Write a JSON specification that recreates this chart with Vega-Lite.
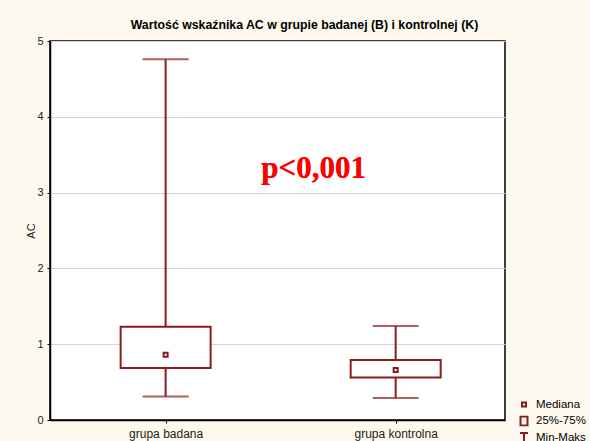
{
  "$schema": "https://vega.github.io/schema/vega-lite/v6.json",
  "autosize": "none",
  "width": 455,
  "height": 379,
  "padding": {"left": 50, "top": 41, "right": 85, "bottom": 21},
  "background": "#FDF9EE",
  "title": {
    "text": "Wartość wskaźnika AC w grupie badanej (B) i kontrolnej (K)",
    "font": "Liberation Sans",
    "fontSize": 12.3,
    "fontWeight": "bold",
    "color": "#000000",
    "anchor": "middle",
    "frame": "group",
    "dx": 27,
    "dy": 18,
    "baseline": "alphabetic",
    "offset": 12
  },
  "config": {
    "view": {"fill": "#FFFFFF", "stroke": "#000000", "strokeWidth": 1.5},
    "axis": {
      "labelFont": "Liberation Sans",
      "labelFontSize": 11,
      "labelColor": "#222222",
      "titleFont": "Liberation Sans",
      "titleFontSize": 11,
      "titleFontWeight": "normal",
      "titleColor": "#222222",
      "domainColor": "#000000",
      "domainWidth": 1.5,
      "tickColor": "#000000"
    }
  },
  "data": {
    "values": [
      {"grupa": "grupa badana", "element": "Mediana", "min": 0.31, "q1": 0.685, "mediana": 0.86, "q3": 1.23, "max": 4.76},
      {"grupa": "grupa kontrolna", "element": "Mediana", "min": 0.29, "q1": 0.56, "mediana": 0.66, "q3": 0.79, "max": 1.24}
    ]
  },
  "encoding": {
    "x": {
      "field": "grupa",
      "type": "nominal",
      "sort": null,
      "scale": {"type": "point", "padding": 0.489, "align": 0.514},
      "axis": {"title": null, "labelAngle": 0, "labelPadding": 5, "labelFontSize": 12, "tickSize": 3, "grid": false}
    }
  },
  "layer": [
    {
      "mark": {"type": "rule", "color": "#8B1C1C", "strokeWidth": 2},
      "encoding": {
        "y": {
          "field": "min",
          "type": "quantitative",
          "scale": {"domain": [0, 5], "nice": false},
          "axis": {
            "title": "AC",
            "values": [0, 1, 2, 3, 4, 5],
            "format": "d",
            "tickSize": 3,
            "labelPadding": 4,
            "titlePadding": 0,
            "grid": true,
            "gridColor": "#D4D4D4",
            "gridWidth": 1
          }
        },
        "y2": {"field": "max"}
      }
    },
    {
      "mark": {"type": "bar", "size": 90, "fill": "#FFFFFF", "stroke": "#8B1C1C", "strokeWidth": 2},
      "encoding": {
        "y": {"field": "q1", "type": "quantitative"},
        "y2": {"field": "q3"}
      }
    },
    {
      "mark": {"type": "tick", "color": "#8B1C1C", "size": 46, "thickness": 2},
      "encoding": {"y": {"field": "min", "type": "quantitative"}}
    },
    {
      "mark": {"type": "tick", "color": "#8B1C1C", "size": 46, "thickness": 2},
      "encoding": {"y": {"field": "max", "type": "quantitative"}}
    },
    {
      "mark": {"type": "point", "filled": false, "color": "#8B1C1C", "strokeWidth": 2, "size": 100, "opacity": 1},
      "encoding": {
        "y": {"field": "mediana", "type": "quantitative"},
        "shape": {
          "field": "element",
          "type": "nominal",
          "scale": {
            "domain": ["Mediana", "25%-75%", "Min-Maks"],
            "range": [
              "M-0.4,-0.4H0.4V0.4H-0.4Z",
              "M-0.7,-0.9H0.7V0.9H-0.7Z",
              "M-0.8,-0.9H0.8M0,-0.9V1.1"
            ]
          },
          "legend": {
            "title": null,
            "orient": "none",
            "legendX": 468,
            "legendY": 358,
            "padding": 0,
            "symbolSize": 100,
            "symbolStrokeWidth": 2,
            "symbolStrokeColor": "#8B1C1C",
            "symbolFillColor": "transparent",
            "symbolOpacity": 1,
            "labelFont": "Liberation Sans",
            "labelFontSize": 11.5,
            "labelColor": "#000000",
            "labelOffset": 6,
            "clipHeight": 11,
            "rowPadding": 4.5
          }
        }
      }
    },
    {
      "mark": {
        "type": "text",
        "text": "p<0,001",
        "font": "Liberation Serif",
        "fontSize": 31,
        "fontWeight": "bold",
        "color": "#FF0000",
        "align": "center",
        "baseline": "alphabetic",
        "dx": -82
      },
      "encoding": {
        "x": {"datum": "grupa kontrolna"},
        "y": {"datum": 3.19}
      }
    }
  ]
}
